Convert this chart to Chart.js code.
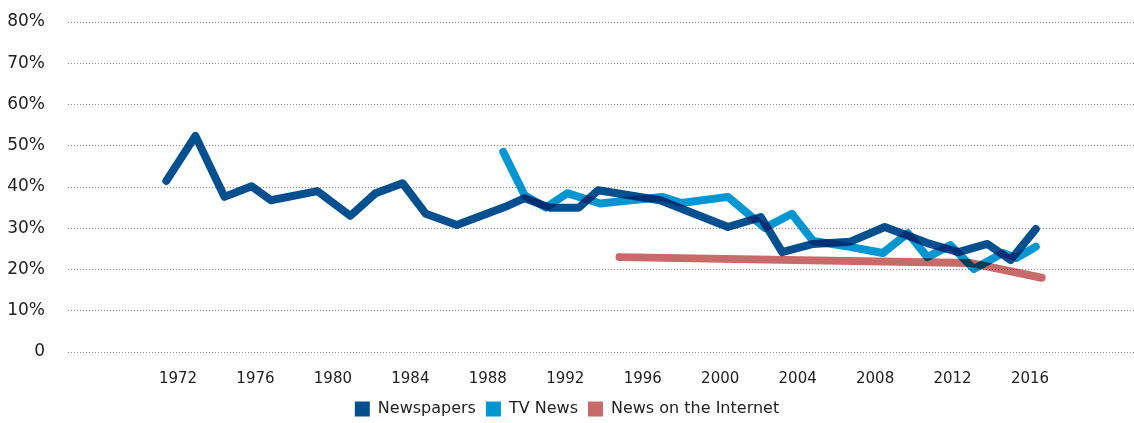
<!DOCTYPE html>
<html>
<head>
<meta charset="utf-8">
<script src="https://cdn.jsdelivr.net/npm/chart.js@4/dist/chart.umd.min.js"></script>
<style>
  html, body { margin: 0; padding: 0; background: #fff; }
  #wrap { width: 1134px; height: 423px; }
</style>
</head>
<body>
<div id="wrap"><canvas id="chart"></canvas></div>
<script>
/* ---------- Data ---------- */
const newsYears = [1971.4, 1972.9, 1974.4, 1975.8, 1976.8, 1979.2, 1980.9, 1982.2, 1983.6, 1984.8,
  1986.4, 1988.9, 1989.9, 1991.2, 1992.7, 1993.7, 1996.9, 2000.4, 2002.1, 2003.2,
  2004.8, 2006.7, 2008.5, 2010.7, 2012.3, 2013.8, 2015.0, 2016.3];
const newsValues = [41.5, 52.4, 37.6, 40.2, 36.8, 39.0, 33.0, 38.5, 40.9, 33.5,
  30.8, 35.2, 37.3, 35.0, 35.0, 39.2, 36.8, 30.3, 32.7, 24.2,
  26.2, 26.7, 30.3, 26.4, 24.2, 26.2, 22.3, 29.8];

const tvYears = [1988.8, 1989.9, 1991.0, 1992.1, 1993.8, 1997.0, 1998.0, 2000.4, 2002.3, 2003.7,
  2004.8, 2006.7, 2008.4, 2009.7, 2010.7, 2011.9, 2013.1, 2014.6, 2015.3, 2016.3];
const tvValues = [48.5, 38.0, 35.0, 38.5, 36.0, 37.6, 36.1, 37.6, 30.1, 33.5,
  26.9, 25.5, 24.0, 28.8, 23.0, 25.9, 20.1, 24.0, 22.8, 25.5];

const netYears = [1994.8, 2012.9, 2016.6];
const netValues = [23.0, 21.6, 18.0];

const xTickYears = [1972, 1976, 1980, 1984, 1988, 1992, 1996, 2000, 2004, 2008, 2012, 2016];
const yTickValues = [0, 10, 20, 30, 40, 50, 60, 70, 80];

const seriesNames = ["Newspapers", "TV News", "News on the Internet"];
const seriesColors = ["#00508f", "#0096d2", "#c86a6a"];

/* ---------- Helpers ---------- */
const FONT = "'DejaVu Sans', 'Liberation Sans', sans-serif";

function toPoints(xs, ys) {
  return xs.map((x, i) => ({ x, y: ys[i] }));
}

function makeSet(i, xs, ys) {
  return {
    label: seriesNames[i],
    data: toPoints(xs, ys),
    borderColor: seriesColors[i],
    backgroundColor: seriesColors[i],
    borderWidth: 8,
    borderCapStyle: "round",
    borderJoinStyle: "round",
    pointRadius: 0,
    tension: 0
  };
}

// lines blend like the reference: overlaps get darker
const multiplyLines = {
  id: "multiplyLines",
  beforeDatasetsDraw(c) { c.ctx.save(); c.ctx.globalCompositeOperation = "multiply"; },
  afterDatasetsDraw(c) { c.ctx.restore(); }
};

/* ---------- Chart ---------- */
Chart.defaults.font.family = FONT;
Chart.defaults.color = "#222";

new Chart(document.getElementById("chart"), {
  type: "line",
  data: {
    datasets: [
      makeSet(0, newsYears, newsValues),
      makeSet(1, tvYears, tvValues),
      makeSet(2, netYears, netValues)
    ]
  },
  plugins: [multiplyLines],
  options: {
    responsive: true,
    maintainAspectRatio: false,
    animation: false,
    layout: { padding: { top: 22, right: 0, bottom: -4, left: 0 } },
    plugins: {
      tooltip: { enabled: false },
      legend: {
        position: "bottom",
        labels: {
          boxWidth: 15,
          boxHeight: 15,
          padding: 10,
          color: "#222",
          font: { size: 16 },
          generateLabels: c => Chart.defaults.plugins.legend.labels.generateLabels(c)
            .map(l => ({ ...l, lineWidth: 0 }))
        }
      }
    },
    scales: {
      x: {
        type: "linear",
        min: 1966.32,
        max: 2021.37,
        afterBuildTicks: s => { s.ticks = xTickYears.map(v => ({ value: v })); },
        afterFit: s => { s.height = 39; },
        ticks: {
          callback: v => String(v),
          font: { size: 15 },
          color: "#222",
          padding: 18,
          maxRotation: 0,
          autoSkip: false
        },
        grid: { display: false, drawTicks: false },
        border: { display: false }
      },
      y: {
        min: 0,
        max: 80,
        afterBuildTicks: s => { s.ticks = yTickValues.map(v => ({ value: v })); },
        afterFit: s => { s.width = 68; s.paddingTop = 10; s.paddingBottom = 10; },
        ticks: {
          callback: v => v === 0 ? "0" : v + "%",
          font: { size: 17 },
          color: "#222",
          padding: 23
        },
        grid: { color: "#8a8a8a", lineWidth: 1, drawTicks: false },
        border: { display: false, dash: [1, 2] }
      }
    }
  }
});
</script>
</body>
</html>
